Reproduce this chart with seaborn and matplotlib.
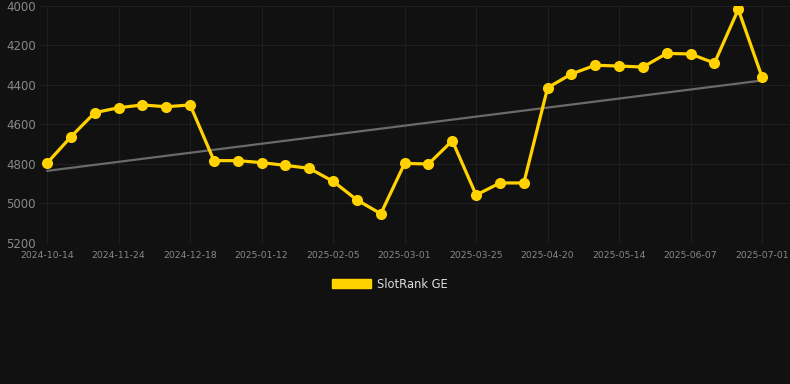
import numpy as np
import pandas as pd
import matplotlib
matplotlib.use("Agg")
import matplotlib.pyplot as plt
import seaborn as sns
from matplotlib.patches import Patch

# ==============================
#            DATA
# ==============================
dates = [
    "2024-10-14", "2024-10-28", "2024-11-11", "2024-11-24", "2024-12-02",
    "2024-12-10", "2024-12-18", "2024-12-26", "2025-01-03", "2025-01-12",
    "2025-01-20", "2025-01-28", "2025-02-05", "2025-02-13", "2025-02-21",
    "2025-03-01", "2025-03-09", "2025-03-17", "2025-03-25", "2025-04-03",
    "2025-04-11", "2025-04-20", "2025-04-28", "2025-05-06", "2025-05-14",
    "2025-05-22", "2025-05-30", "2025-06-07", "2025-06-15", "2025-06-23",
    "2025-07-01",
]
rank = [
    4795, 4662, 4540, 4515, 4501, 4510, 4501, 4783, 4783, 4793,
    4807, 4822, 4888, 4982, 5052, 4797, 4800, 4682, 4957, 4896,
    4896, 4414, 4344, 4300, 4304, 4309, 4240, 4243, 4289, 4017,
    4361,
]
series_name = "SlotRank GE"
y_ticks = [4000, 4200, 4400, 4600, 4800, 5000, 5200]

BG = "#111111"
GOLD = "#FFD200"
# ==============================

df = pd.DataFrame({"idx": np.arange(len(dates)), "date": dates, "rank": rank})

# linear trend over the series
slope, intercept = np.polyfit(df["idx"], df["rank"], 1)
df["trend"] = intercept + slope * df["idx"]

sns.set_style("dark")
plt.rcParams["font.family"] = ["DejaVu Sans"]

fig = plt.figure(figsize=(7.9, 3.84), dpi=100, facecolor=BG)
ax = fig.add_axes([40 / 790, 1 - 243 / 384, 1 - 40 / 790, (243 - 6) / 384])
ax.set_facecolor(BG)

sns.lineplot(data=df, x="idx", y="trend", ax=ax, color="#6a6a6a", linewidth=1.6, zorder=2)
sns.lineplot(data=df, x="idx", y="rank", ax=ax, color=GOLD, linewidth=2.3,
             marker="o", markersize=8, markeredgewidth=0, zorder=3)

ax.set_ylim(5200, 4000)
ax.set_xlim(-0.3, len(dates) - 1 + 1.17)
ax.set_yticks(y_ticks)
ax.set_yticklabels([str(v) for v in y_ticks])
ax.set_xticks(df["idx"][::3])
ax.set_xticklabels(df["date"][::3])

ax.grid(True, color="#1f1f1f", linewidth=0.8)
ax.set_axisbelow(True)
for s in ax.spines.values():
    s.set_visible(False)
ax.axhline(5200, color="#2a2a2a", linewidth=0.8, zorder=1)

ax.tick_params(axis="y", colors="#888888", labelsize=8.5, length=0, pad=3)
ax.tick_params(axis="x", colors="#888888", labelsize=6.7, length=0, pad=6)
ax.set_xlabel("")
ax.set_ylabel("")

handle = Patch(facecolor=GOLD, edgecolor=GOLD, label=series_name)
fig.legend(handles=[handle], loc="center", bbox_to_anchor=(390 / 790, 1 - 284 / 384),
           frameon=False, fontsize=8.3, labelcolor="#dddddd",
           handlelength=3.4, handleheight=0.85, handletextpad=0.5)

fig.savefig("out.png", dpi=100, facecolor=BG)
